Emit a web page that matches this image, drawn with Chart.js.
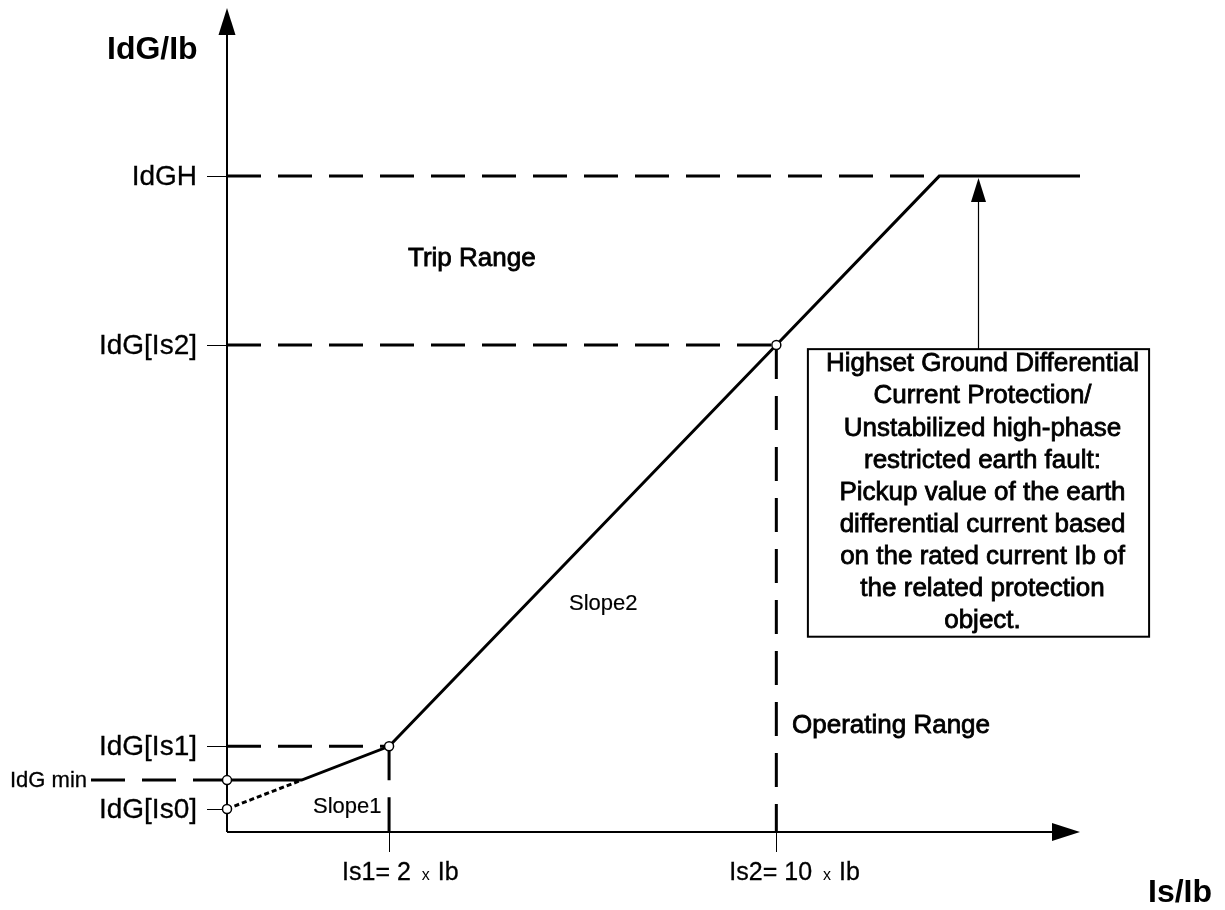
<!DOCTYPE html>
<html>
<head>
<meta charset="utf-8">
<script src="https://cdn.jsdelivr.net/npm/chart.js@4/dist/chart.umd.min.js"></script>
<style>
  html, body { margin: 0; padding: 0; background: #fff; }
  canvas { display: block; }
</style>
</head>
<body>
<canvas id="diagram" width="1225" height="910"></canvas>
<script>
// schematic units (not to scale), x: Is/Ib, y: IdG/Ib
const curveX = [0, 8.75, 19, 64.4, 83.5, 100];
const curveY = [6.3, 6.3, 10.4, 59.1, 79.6, 79.6];
const slope1ExtX = [0, 8.75];
const slope1ExtY = [2.8, 6.3];
const idgMin = 6.3;
const idgMinLeadX = -16;
const yTickValues = [79.6, 59.1, 10.4, 2.8];
const yTickLabels = ['IdGH', 'IdG[Is2]', 'IdG[Is1]', 'IdG[Is0]'];
const xTickValues = [19, 64.4];
const xTickLabels = [['Is1= 2', 'x', 'Ib'], ['Is2= 10', 'x', 'Ib']];
const knotX = [0, 0, 19, 64.4];
const knotY = [6.3, 2.8, 10.4, 59.1];
const boxLines = [
    'Highset Ground Differential',
    'Current Protection/',
    'Unstabilized high-phase',
    'restricted earth fault:',
    'Pickup value of the earth',
    'differential current based',
    'on the rated current Ib of',
    'the related protection',
    'object.'
];

const FONT = '"Liberation Sans", Arial, sans-serif';
const DASH = [34, 17];

function pts(xs, ys) {
    return xs.map((v, i) => ({ x: v, y: ys[i] }));
}

function seg(xs, ys, dash, width) {
    return {
        type: 'line',
        data: pts(xs, ys),
        borderColor: '#000',
        borderWidth: width || 3,
        borderDash: dash || [],
        borderCapStyle: 'butt',
        pointRadius: 0,
        clip: false
    };
}

const yIs2 = yTickValues[1];
const yIs1 = yTickValues[2];
const yIdGH = yTickValues[0];

const datasets = [
    {
        type: 'scatter',
        data: pts(knotX, knotY),
        pointRadius: 4.5,
        pointBackgroundColor: '#fff',
        pointBorderColor: '#000',
        pointBorderWidth: 1.5,
        clip: false
    },
    seg(curveX, curveY),
    seg(slope1ExtX, slope1ExtY, [5, 3]),
    seg([0, curveX[4]], [yIdGH, yIdGH], DASH),
    seg([0, xTickValues[1]], [yIs2, yIs2], DASH),
    seg([0, xTickValues[0]], [yIs1, yIs1], DASH),
    seg([0, idgMinLeadX], [idgMin, idgMin], DASH),
    seg([xTickValues[0], xTickValues[0]], [yIs1, 0], DASH),
    seg([xTickValues[1], xTickValues[1]], [yIs2, 0], DASH)
];

// annotation box in data units
const box = { left: 68.1, right: 108.1, top: 58.6, bottom: 23.7 };

function arrowHead(ctx, tipX, tipY, dir, len, half) {
    ctx.beginPath();
    if (dir === 'up') {
        ctx.moveTo(tipX, tipY);
        ctx.lineTo(tipX - half, tipY + len);
        ctx.lineTo(tipX + half, tipY + len);
    } else {
        ctx.moveTo(tipX, tipY);
        ctx.lineTo(tipX - len, tipY - half);
        ctx.lineTo(tipX - len, tipY + half);
    }
    ctx.closePath();
    ctx.fill();
}

// the original text looks a bit heavier than plain regular
function heavyText(ctx, t, px, py, w) {
    ctx.fillText(t, px, py);
    if (w) {
        ctx.lineWidth = w;
        ctx.strokeText(t, px, py);
    }
}

const sketchPlugin = {
    id: 'sketch',
    beforeDatasetsDraw(chart) {
        const { ctx, chartArea: a, scales: { x, y } } = chart;
        ctx.save();
        ctx.strokeStyle = '#000';
        ctx.fillStyle = '#000';

        // axes with arrows
        ctx.lineWidth = 2;
        ctx.beginPath();
        ctx.moveTo(a.left, a.bottom);
        ctx.lineTo(a.left, a.top + 24);
        ctx.moveTo(a.left, a.bottom);
        ctx.lineTo(a.right - 26, a.bottom);
        ctx.stroke();
        arrowHead(ctx, a.left, a.top, 'up', 27, 8.5);
        arrowHead(ctx, a.right, a.bottom, 'right', 28, 9);

        // thin tick marks
        ctx.lineWidth = 1;
        ctx.beginPath();
        yTickValues.forEach(v => {
            const py = Math.round(y.getPixelForValue(v)) + 0.5;
            ctx.moveTo(a.left - 20, py);
            ctx.lineTo(a.left, py);
        });
        xTickValues.forEach(v => {
            const px = Math.round(x.getPixelForValue(v)) + 0.5;
            ctx.moveTo(px, a.bottom);
            ctx.lineTo(px, a.bottom + 20);
        });
        ctx.stroke();

        // annotation box and arrow
        const bl = x.getPixelForValue(box.left), br = x.getPixelForValue(box.right);
        const bt = y.getPixelForValue(box.top), bb = y.getPixelForValue(box.bottom);
        const cx = Math.round((bl + br) / 2) + 0.5;
        ctx.lineWidth = 2;
        ctx.strokeRect(bl, bt, br - bl, bb - bt);
        ctx.lineWidth = 1.2;
        const tipY = y.getPixelForValue(yIdGH) + 2;
        ctx.beginPath();
        ctx.moveTo(cx, bt);
        ctx.lineTo(cx, tipY + 20);
        ctx.stroke();
        arrowHead(ctx, cx, tipY, 'up', 24, 7.5);
        ctx.restore();
    },
    afterDraw(chart) {
        const { ctx, chartArea: a, scales: { x, y } } = chart;
        ctx.save();
        ctx.fillStyle = '#000';
        ctx.strokeStyle = '#000';
        ctx.textBaseline = 'middle';

        // y tick labels
        ctx.font = '28px ' + FONT;
        ctx.textAlign = 'right';
        yTickLabels.forEach((t, i) => {
            heavyText(ctx, t, a.left - 30, y.getPixelForValue(yTickValues[i]) + 1, 0.3);
        });
        ctx.font = '22px ' + FONT;
        ctx.textAlign = 'left';
        heavyText(ctx, 'IdG min', 10, y.getPixelForValue(idgMin) + 1, 0.3);

        // x tick labels
        xTickLabels.forEach((parts, i) => {
            let px = x.getPixelForValue(xTickValues[i]) - 47;
            const py = a.bottom + 41;
            ctx.font = '25px ' + FONT;
            heavyText(ctx, parts[0], px, py, 0.3);
            px += ctx.measureText(parts[0]).width + 11;
            ctx.font = '16px ' + FONT;
            ctx.fillText(parts[1], px, py + 3);
            px += ctx.measureText(parts[1]).width + 8;
            ctx.font = '25px ' + FONT;
            heavyText(ctx, parts[2], px, py, 0.3);
        });

        // axis titles
        ctx.font = 'bold 32px ' + FONT;
        ctx.fillText('IdG/Ib', 107, 50);
        ctx.fillText('Is/Ib', 1148, 893);

        // region labels
        ctx.font = '26px ' + FONT;
        heavyText(ctx, 'Trip Range', 408, 259, 0.8);
        heavyText(ctx, 'Operating Range', 792, 726, 0.8);
        ctx.font = '22px ' + FONT;
        heavyText(ctx, 'Slope2', 569, 604, 0.2);
        heavyText(ctx, 'Slope1', 313, 807, 0.2);

        // box text
        const bl = x.getPixelForValue(box.left), br = x.getPixelForValue(box.right);
        const bt = y.getPixelForValue(box.top);
        ctx.font = '26px ' + FONT;
        ctx.textAlign = 'center';
        boxLines.forEach((t, i) => {
            heavyText(ctx, t, (bl + br) / 2 + 4, bt + 15 + i * 32.1, 0.8);
        });
        ctx.restore();
    }
};

new Chart(document.getElementById('diagram'), {
    data: { datasets: datasets },
    options: {
        responsive: false,
        animation: false,
        events: [],
        layout: { padding: { left: 227, right: 145, top: 8, bottom: 78 } },
        plugins: { legend: { display: false }, tooltip: { enabled: false } },
        scales: {
            x: { type: 'linear', min: 0, max: 100, display: false },
            y: { type: 'linear', min: 0, max: 100, display: false }
        }
    },
    plugins: [sketchPlugin]
});
</script>
</body>
</html>
